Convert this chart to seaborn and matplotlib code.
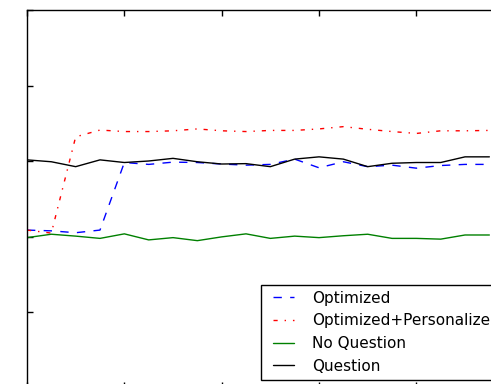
import matplotlib
matplotlib.use("Agg")
import matplotlib.pyplot as plt
from matplotlib.legend_handler import HandlerLine2D
import seaborn as sns
import pandas as pd

# values (20 steps)
steps = list(range(20))
optimized = [0.417, 0.415, 0.410, 0.417, 0.596, 0.591, 0.597, 0.596, 0.592, 0.589,
             0.591, 0.605, 0.582, 0.598, 0.585, 0.589, 0.581, 0.588, 0.591, 0.591]
optimized_personalized = [0.417, 0.409, 0.664, 0.682, 0.678, 0.678, 0.680, 0.685, 0.680, 0.678,
                          0.681, 0.681, 0.685, 0.691, 0.684, 0.678, 0.673, 0.680, 0.680, 0.681]
no_question = [0.397, 0.406, 0.401, 0.395, 0.407, 0.391, 0.397, 0.389, 0.399, 0.407,
               0.395, 0.401, 0.397, 0.402, 0.406, 0.395, 0.395, 0.393, 0.404, 0.404]
question = [0.603, 0.598, 0.585, 0.603, 0.596, 0.600, 0.607, 0.598, 0.592, 0.593,
            0.585, 0.605, 0.611, 0.605, 0.585, 0.594, 0.596, 0.596, 0.611, 0.611]

df = pd.DataFrame({
    "step": steps,
    "Optimized": optimized,
    "Optimized+Personalized": optimized_personalized,
    "No Question": no_question,
    "Question": question,
})

sns.set_style("white")
plt.rcParams["font.family"] = ["DejaVu Sans"]

fig = plt.figure(figsize=(4.91, 3.84), dpi=100)
# the reference is a crop: the axes run past the right and bottom edges
ax = fig.add_axes([27 / 491, -3.5 / 384, 486.7 / 491, 377.5 / 384])

sns.lineplot(x="step", y="Optimized", data=df, ax=ax, color="blue",
             linewidth=1.0, label="Optimized")
ax.lines[-1].set_dashes((6, 6))
sns.lineplot(x="step", y="Optimized+Personalized", data=df, ax=ax, color="red",
             linewidth=1.0, label="Optimized+Personalized")
ax.lines[-1].set_dashes((3, 5, 1, 5))
sns.lineplot(x="step", y="No Question", data=df, ax=ax, color="green",
             linewidth=1.0, label="No Question")
sns.lineplot(x="step", y="Question", data=df, ax=ax, color="black",
             linewidth=1.0, label="Question")

ax.set_xlim(0, 20)
ax.set_ylim(0, 1)
ax.set_xticks([0, 4, 8, 12, 16, 20])
ax.set_yticks([0, 0.2, 0.4, 0.6, 0.8, 1.0])
ax.set_xticklabels([])
ax.set_yticklabels([])
ax.set_xlabel("")
ax.set_ylabel("")
ax.tick_params(direction="in", length=4, width=1, top=True, right=True,
               bottom=True, left=True, color="black")
for sp in ax.spines.values():
    sp.set_color("black")
    sp.set_linewidth(1.0)

leg = ax.legend(loc="lower right", fontsize=11, fancybox=False, framealpha=1,
                edgecolor="black", handlelength=1.75, handletextpad=1.2,
                labelspacing=0.5, borderpad=0.4, borderaxespad=0.5,
                handler_map={matplotlib.lines.Line2D: HandlerLine2D(xpad=0.37)})
leg.get_frame().set_linewidth(1.0)
for t in leg.get_texts():
    t.set_color("black")

fig.savefig("out.png", dpi=100)
